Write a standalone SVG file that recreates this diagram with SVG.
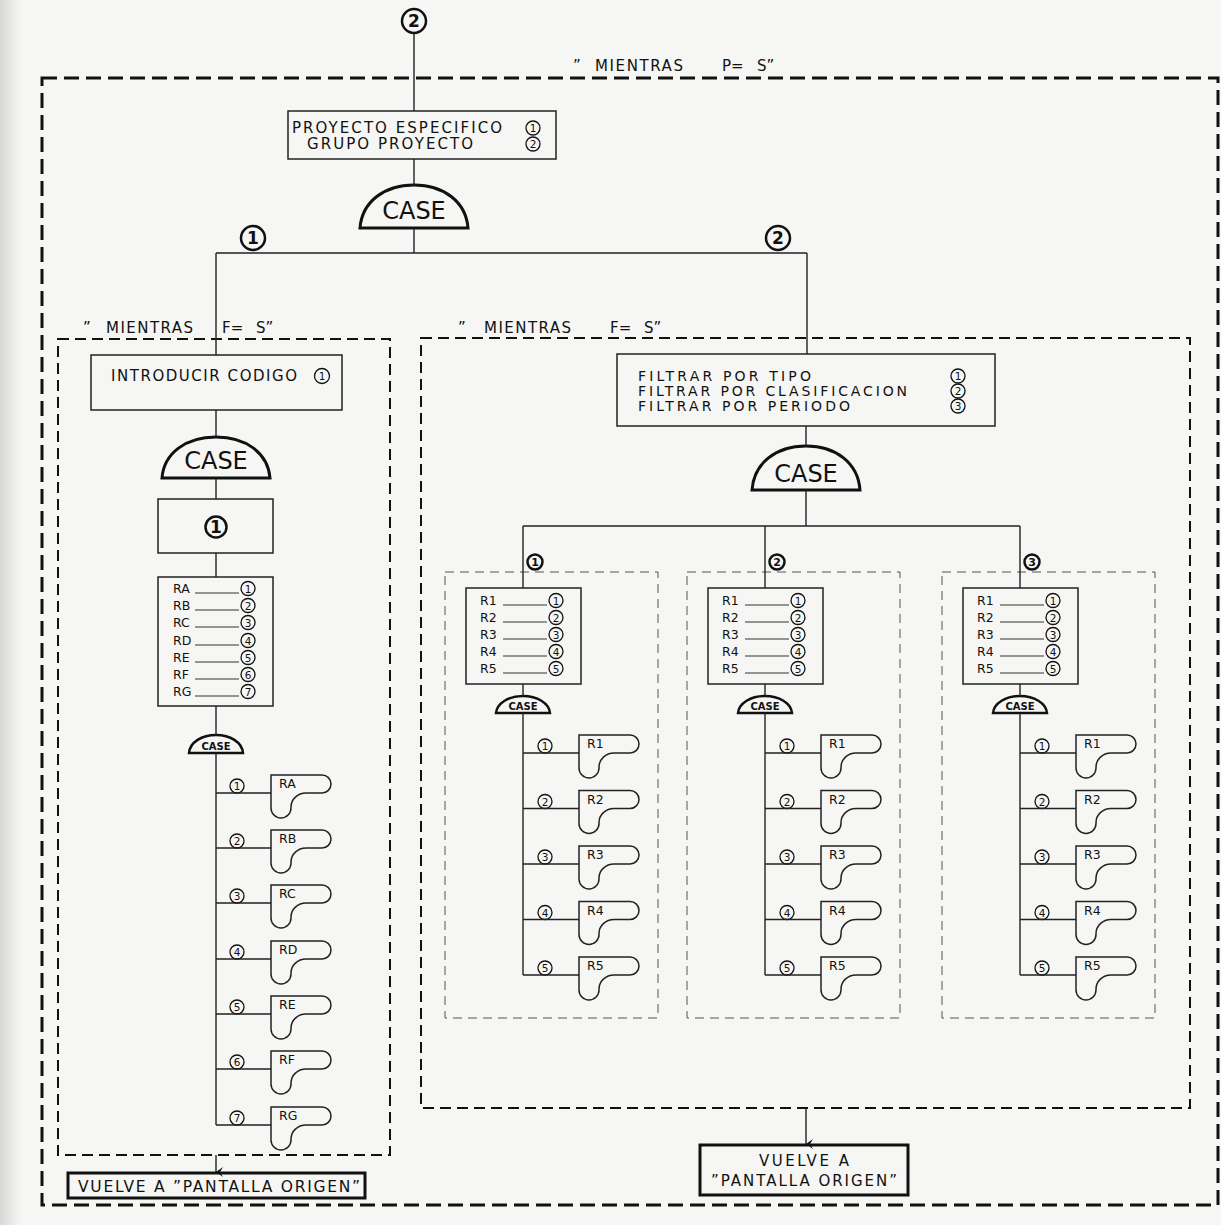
<svg xmlns="http://www.w3.org/2000/svg" xmlns:xlink="http://www.w3.org/1999/xlink" width="1221" height="1225" viewBox="0 0 1221 1225">
<defs>
<style>
text{font-family:"DejaVu Sans","Liberation Sans",sans-serif;fill:#111}
.ln{stroke:#222;stroke-width:1.4;fill:none}
.bx{fill:none;stroke:#222;stroke-width:1.5}
.tb{fill:none;stroke:#111;stroke-width:3}
.dome{fill:none;stroke:#111;stroke-width:3}
.dome2{fill:none;stroke:#111;stroke-width:2.5}
.outer{fill:none;stroke:#111;stroke-width:3;stroke-dasharray:15 7}
.inner{fill:none;stroke:#111;stroke-width:2;stroke-dasharray:11 6}
.sub{fill:none;stroke:#555;stroke-width:1;stroke-dasharray:9 6}
.card{fill:none;stroke:#222;stroke-width:1.5}
.ct{font-size:24px;text-anchor:middle}
.cs{font-size:10px;font-weight:bold;text-anchor:middle}
.lt{font-size:12.5px}
.c{fill:none;stroke:#111;stroke-width:1.3}
.cb{fill:none;stroke:#111;stroke-width:2.5}
.d{font-size:10.5px;text-anchor:middle}
.db{font-size:17px;font-weight:bold;text-anchor:middle}
.dm{font-size:11px;font-weight:bold;text-anchor:middle}
.ul{stroke:#333;stroke-width:1}
.m{font-size:15px}
.f{font-size:14px}
</style>
<linearGradient id="edge" x1="0" x2="1" y1="0" y2="0">
<stop offset="0" stop-color="#d8d8d6"/>
<stop offset="1" stop-color="#f6f6f4"/>
</linearGradient>
<path id="card" d="M0,0 H51 A9,9 0 0 1 51,18 H35 A15,14 0 0 0 20,32 V33 A10,10 0 0 1 0,33 Z"/>
<marker id="arr" markerWidth="10" markerHeight="10" refX="5" refY="8" orient="auto" markerUnits="userSpaceOnUse" viewBox="0 0 10 10">
<path d="M0,1 L5,8 L10,1 L5,4 Z" fill="#111"/>
</marker>
</defs>
<rect width="1221" height="1225" fill="#f6f6f4"/>
<rect width="22" height="1225" fill="url(#edge)"/>

<g id="loop-outer">
<rect class="outer" x="42" y="78" width="1176" height="1127"/>
<text class="m"><tspan x="573" y="71">”</tspan><tspan x="595" y="71" textLength="88" lengthAdjust="spacing">MIENTRAS</tspan><tspan x="722" y="71">P=</tspan><tspan x="757" y="71">S”</tspan></text>
</g>

<g id="start">
<circle class="cb" cx="414" cy="21" r="12"/><text class="db" x="414" y="27">2</text>
</g>

<g id="menu">
<rect class="bx" x="288" y="111" width="268" height="48"/>
<text class="m" x="292" y="133" textLength="210" lengthAdjust="spacing">PROYECTO ESPECIFICO</text>
<circle class="c" cx="533" cy="128" r="7"/><text class="d" x="533" y="132">1</text>
<text class="m" x="307" y="149" textLength="166" lengthAdjust="spacing">GRUPO PROYECTO</text>
<circle class="c" cx="533" cy="144" r="7"/><text class="d" x="533" y="148">2</text>
</g>

<g id="case-main">
<path class="dome" d="M360,228 C362,202 384,185 414,185 C444,185 466,202 468,228 Z"/>
<text class="ct" x="414" y="219">CASE</text>
</g>

<g id="label-1">
<circle class="cb" cx="253" cy="238" r="12"/><text class="db" x="253" y="244">1</text>
</g>
<g id="label-2">
<circle class="cb" cx="778" cy="238" r="12"/><text class="db" x="778" y="244">2</text>
</g>

<g id="loop-left">
<rect class="inner" x="58" y="339" width="332" height="816"/>
<text class="m"><tspan x="83" y="333">”</tspan><tspan x="106" y="333" textLength="87" lengthAdjust="spacing">MIENTRAS</tspan><tspan x="222" y="333">F=</tspan><tspan x="256" y="333">S”</tspan></text>
</g>

<g id="loop-right">
<rect class="inner" x="421" y="338" width="769" height="770"/>
<text class="m"><tspan x="458" y="333">”</tspan><tspan x="484" y="333" textLength="87" lengthAdjust="spacing">MIENTRAS</tspan><tspan x="610" y="333">F=</tspan><tspan x="644" y="333">S”</tspan></text>
</g>

<g id="introducir">
<rect class="bx" x="91" y="355" width="251" height="55"/>
<text class="m" x="111" y="381" textLength="186" lengthAdjust="spacing">INTRODUCIR CODIGO</text>
<circle class="c" cx="322" cy="376" r="7.5"/><text class="d" x="322" y="380">1</text>
</g>

<g id="case-left">
<path class="dome" d="M162,478 C164,453 186,437 216,437 C246,437 268,453 270,478 Z"/>
<text class="ct" x="216" y="469">CASE</text>
</g>

<g id="box-1">
<rect class="bx" x="158" y="499" width="115" height="54"/>
<circle class="cb" cx="216" cy="527" r="10.5"/><text class="db" x="216" y="533" font-size="16">1</text>
</g>

<g id="list-left">
<rect class="bx" x="158" y="577" width="115" height="129"/>
<text class="lt" x="173" y="593">RA</text><line class="ul" x1="195" y1="593" x2="239" y2="593"/><circle class="c" cx="248" cy="588.5" r="7"/><text class="d" x="248" y="592.5">1</text>
<text class="lt" x="173" y="610">RB</text><line class="ul" x1="195" y1="610" x2="239" y2="610"/><circle class="c" cx="248" cy="605.5" r="7"/><text class="d" x="248" y="609.5">2</text>
<text class="lt" x="173" y="627">RC</text><line class="ul" x1="195" y1="627" x2="239" y2="627"/><circle class="c" cx="248" cy="622.5" r="7"/><text class="d" x="248" y="626.5">3</text>
<text class="lt" x="173" y="645">RD</text><line class="ul" x1="195" y1="645" x2="239" y2="645"/><circle class="c" cx="248" cy="640.5" r="7"/><text class="d" x="248" y="644.5">4</text>
<text class="lt" x="173" y="662">RE</text><line class="ul" x1="195" y1="662" x2="239" y2="662"/><circle class="c" cx="248" cy="657.5" r="7"/><text class="d" x="248" y="661.5">5</text>
<text class="lt" x="173" y="679">RF</text><line class="ul" x1="195" y1="679" x2="239" y2="679"/><circle class="c" cx="248" cy="674.5" r="7"/><text class="d" x="248" y="678.5">6</text>
<text class="lt" x="173" y="696">RG</text><line class="ul" x1="195" y1="696" x2="239" y2="696"/><circle class="c" cx="248" cy="691.5" r="7"/><text class="d" x="248" y="695.5">7</text>
</g>

<g id="case-left-small">
<path class="dome2" d="M189,753 C190,742 202,735 216,735 C230,735 242,742 243,753 Z"/>
<text class="cs" x="216" y="750">CASE</text>
</g>

<g id="left-cards">
<g id="card-RA"><use xlink:href="#card" href="#card" class="card" x="271" y="775"/><text class="lt" x="279" y="788">RA</text><circle class="c" cx="237" cy="786" r="7"/><text class="d" x="237" y="790">1</text></g>
<g id="card-RB"><use xlink:href="#card" href="#card" class="card" x="271" y="830"/><text class="lt" x="279" y="843">RB</text><circle class="c" cx="237" cy="841" r="7"/><text class="d" x="237" y="845">2</text></g>
<g id="card-RC"><use xlink:href="#card" href="#card" class="card" x="271" y="885"/><text class="lt" x="279" y="898">RC</text><circle class="c" cx="237" cy="896" r="7"/><text class="d" x="237" y="900">3</text></g>
<g id="card-RD"><use xlink:href="#card" href="#card" class="card" x="271" y="941"/><text class="lt" x="279" y="954">RD</text><circle class="c" cx="237" cy="952" r="7"/><text class="d" x="237" y="956">4</text></g>
<g id="card-RE"><use xlink:href="#card" href="#card" class="card" x="271" y="996"/><text class="lt" x="279" y="1009">RE</text><circle class="c" cx="237" cy="1007" r="7"/><text class="d" x="237" y="1011">5</text></g>
<g id="card-RF"><use xlink:href="#card" href="#card" class="card" x="271" y="1051"/><text class="lt" x="279" y="1064">RF</text><circle class="c" cx="237" cy="1062" r="7"/><text class="d" x="237" y="1066">6</text></g>
<g id="card-RG"><use xlink:href="#card" href="#card" class="card" x="271" y="1107"/><text class="lt" x="279" y="1120">RG</text><circle class="c" cx="237" cy="1118" r="7"/><text class="d" x="237" y="1122">7</text></g>
</g>

<g id="filtrar">
<rect class="bx" x="617" y="354" width="378" height="72"/>
<text class="f" x="638" y="381" textLength="173" lengthAdjust="spacing">FILTRAR POR TIPO</text>
<text class="f" x="638" y="396" textLength="269" lengthAdjust="spacing">FILTRAR POR CLASIFICACION</text>
<text class="f" x="638" y="411" textLength="212" lengthAdjust="spacing">FILTRAR POR PERIODO</text>
<circle class="c" cx="958" cy="376" r="7"/><text class="d" x="958" y="380">1</text>
<circle class="c" cx="958" cy="391" r="7"/><text class="d" x="958" y="395">2</text>
<circle class="c" cx="958" cy="406" r="7"/><text class="d" x="958" y="410">3</text>
</g>

<g id="case-right">
<path class="dome" d="M752,490 C754,463 776,446 806,446 C836,446 858,463 860,490 Z"/>
<text class="ct" x="806" y="482">CASE</text>
</g>

<g id="sub1">
<rect class="sub" x="445" y="572" width="213" height="446"/>
<circle class="cb" cx="535" cy="562" r="7.5"/><text class="dm" x="535" y="566">1</text>
<rect class="bx" x="466" y="588" width="115" height="96"/>
<text class="lt" x="480" y="605">R1</text><line class="ul" x1="503" y1="605" x2="547" y2="605"/><circle class="c" cx="556" cy="600.5" r="7"/><text class="d" x="556" y="604.5">1</text>
<text class="lt" x="480" y="622">R2</text><line class="ul" x1="503" y1="622" x2="547" y2="622"/><circle class="c" cx="556" cy="617.5" r="7"/><text class="d" x="556" y="621.5">2</text>
<text class="lt" x="480" y="639">R3</text><line class="ul" x1="503" y1="639" x2="547" y2="639"/><circle class="c" cx="556" cy="634.5" r="7"/><text class="d" x="556" y="638.5">3</text>
<text class="lt" x="480" y="656">R4</text><line class="ul" x1="503" y1="656" x2="547" y2="656"/><circle class="c" cx="556" cy="651.5" r="7"/><text class="d" x="556" y="655.5">4</text>
<text class="lt" x="480" y="673">R5</text><line class="ul" x1="503" y1="673" x2="547" y2="673"/><circle class="c" cx="556" cy="668.5" r="7"/><text class="d" x="556" y="672.5">5</text>
<path class="dome2" d="M496,713 C497,703 509,696 523,696 C537,696 549,703 550,713 Z"/>
<text class="cs" x="523" y="710">CASE</text>
<use xlink:href="#card" href="#card" class="card" x="579" y="735"/><text class="lt" x="587" y="748">R1</text><circle class="c" cx="545" cy="746" r="7"/><text class="d" x="545" y="750">1</text>
<use xlink:href="#card" href="#card" class="card" x="579" y="790.5"/><text class="lt" x="587" y="803.5">R2</text><circle class="c" cx="545" cy="801.5" r="7"/><text class="d" x="545" y="805.5">2</text>
<use xlink:href="#card" href="#card" class="card" x="579" y="846"/><text class="lt" x="587" y="859">R3</text><circle class="c" cx="545" cy="857" r="7"/><text class="d" x="545" y="861">3</text>
<use xlink:href="#card" href="#card" class="card" x="579" y="901.5"/><text class="lt" x="587" y="914.5">R4</text><circle class="c" cx="545" cy="912.5" r="7"/><text class="d" x="545" y="916.5">4</text>
<use xlink:href="#card" href="#card" class="card" x="579" y="957"/><text class="lt" x="587" y="970">R5</text><circle class="c" cx="545" cy="968" r="7"/><text class="d" x="545" y="972">5</text>
</g>

<g id="sub2" transform="translate(242,0)">
<rect class="sub" x="445" y="572" width="213" height="446"/>
<circle class="cb" cx="535" cy="562" r="7.5"/><text class="dm" x="535" y="566">2</text>
<rect class="bx" x="466" y="588" width="115" height="96"/>
<text class="lt" x="480" y="605">R1</text><line class="ul" x1="503" y1="605" x2="547" y2="605"/><circle class="c" cx="556" cy="600.5" r="7"/><text class="d" x="556" y="604.5">1</text>
<text class="lt" x="480" y="622">R2</text><line class="ul" x1="503" y1="622" x2="547" y2="622"/><circle class="c" cx="556" cy="617.5" r="7"/><text class="d" x="556" y="621.5">2</text>
<text class="lt" x="480" y="639">R3</text><line class="ul" x1="503" y1="639" x2="547" y2="639"/><circle class="c" cx="556" cy="634.5" r="7"/><text class="d" x="556" y="638.5">3</text>
<text class="lt" x="480" y="656">R4</text><line class="ul" x1="503" y1="656" x2="547" y2="656"/><circle class="c" cx="556" cy="651.5" r="7"/><text class="d" x="556" y="655.5">4</text>
<text class="lt" x="480" y="673">R5</text><line class="ul" x1="503" y1="673" x2="547" y2="673"/><circle class="c" cx="556" cy="668.5" r="7"/><text class="d" x="556" y="672.5">5</text>
<path class="dome2" d="M496,713 C497,703 509,696 523,696 C537,696 549,703 550,713 Z"/>
<text class="cs" x="523" y="710">CASE</text>
<use xlink:href="#card" href="#card" class="card" x="579" y="735"/><text class="lt" x="587" y="748">R1</text><circle class="c" cx="545" cy="746" r="7"/><text class="d" x="545" y="750">1</text>
<use xlink:href="#card" href="#card" class="card" x="579" y="790.5"/><text class="lt" x="587" y="803.5">R2</text><circle class="c" cx="545" cy="801.5" r="7"/><text class="d" x="545" y="805.5">2</text>
<use xlink:href="#card" href="#card" class="card" x="579" y="846"/><text class="lt" x="587" y="859">R3</text><circle class="c" cx="545" cy="857" r="7"/><text class="d" x="545" y="861">3</text>
<use xlink:href="#card" href="#card" class="card" x="579" y="901.5"/><text class="lt" x="587" y="914.5">R4</text><circle class="c" cx="545" cy="912.5" r="7"/><text class="d" x="545" y="916.5">4</text>
<use xlink:href="#card" href="#card" class="card" x="579" y="957"/><text class="lt" x="587" y="970">R5</text><circle class="c" cx="545" cy="968" r="7"/><text class="d" x="545" y="972">5</text>
</g>

<g id="sub3" transform="translate(497,0)">
<rect class="sub" x="445" y="572" width="213" height="446"/>
<circle class="cb" cx="535" cy="562" r="7.5"/><text class="dm" x="535" y="566">3</text>
<rect class="bx" x="466" y="588" width="115" height="96"/>
<text class="lt" x="480" y="605">R1</text><line class="ul" x1="503" y1="605" x2="547" y2="605"/><circle class="c" cx="556" cy="600.5" r="7"/><text class="d" x="556" y="604.5">1</text>
<text class="lt" x="480" y="622">R2</text><line class="ul" x1="503" y1="622" x2="547" y2="622"/><circle class="c" cx="556" cy="617.5" r="7"/><text class="d" x="556" y="621.5">2</text>
<text class="lt" x="480" y="639">R3</text><line class="ul" x1="503" y1="639" x2="547" y2="639"/><circle class="c" cx="556" cy="634.5" r="7"/><text class="d" x="556" y="638.5">3</text>
<text class="lt" x="480" y="656">R4</text><line class="ul" x1="503" y1="656" x2="547" y2="656"/><circle class="c" cx="556" cy="651.5" r="7"/><text class="d" x="556" y="655.5">4</text>
<text class="lt" x="480" y="673">R5</text><line class="ul" x1="503" y1="673" x2="547" y2="673"/><circle class="c" cx="556" cy="668.5" r="7"/><text class="d" x="556" y="672.5">5</text>
<path class="dome2" d="M496,713 C497,703 509,696 523,696 C537,696 549,703 550,713 Z"/>
<text class="cs" x="523" y="710">CASE</text>
<use xlink:href="#card" href="#card" class="card" x="579" y="735"/><text class="lt" x="587" y="748">R1</text><circle class="c" cx="545" cy="746" r="7"/><text class="d" x="545" y="750">1</text>
<use xlink:href="#card" href="#card" class="card" x="579" y="790.5"/><text class="lt" x="587" y="803.5">R2</text><circle class="c" cx="545" cy="801.5" r="7"/><text class="d" x="545" y="805.5">2</text>
<use xlink:href="#card" href="#card" class="card" x="579" y="846"/><text class="lt" x="587" y="859">R3</text><circle class="c" cx="545" cy="857" r="7"/><text class="d" x="545" y="861">3</text>
<use xlink:href="#card" href="#card" class="card" x="579" y="901.5"/><text class="lt" x="587" y="914.5">R4</text><circle class="c" cx="545" cy="912.5" r="7"/><text class="d" x="545" y="916.5">4</text>
<use xlink:href="#card" href="#card" class="card" x="579" y="957"/><text class="lt" x="587" y="970">R5</text><circle class="c" cx="545" cy="968" r="7"/><text class="d" x="545" y="972">5</text>
</g>

<g id="vuelve-left">
<rect class="tb" x="68" y="1173" width="297" height="25"/>
<text x="78" y="1192" font-size="15.5" textLength="282" lengthAdjust="spacing">VUELVE A ”PANTALLA ORIGEN”</text>
</g>

<g id="vuelve-right">
<rect class="tb" x="700" y="1145" width="208" height="50"/>
<text class="m" x="804" y="1166" text-anchor="middle" textLength="90" lengthAdjust="spacing">VUELVE A</text>
<text class="m" x="804" y="1186" text-anchor="middle" textLength="186" lengthAdjust="spacing">”PANTALLA ORIGEN”</text>
</g>

<g id="connectors" class="ln">
<path d="M414,33 V111 M414,159 V185 M414,228 V253 M216,253 H807 M216,253 V355 M807,253 V354"/>
<path d="M216,410 V437 M216,478 V499 M216,553 V577 M216,706 V735 M216,753 V1125"/>
<path d="M216,793 H271 M216,848 H271 M216,903 H271 M216,959 H271 M216,1014 H271 M216,1069 H271 M216,1125 H271"/>
<path d="M806,426 V446 M806,490 V526 M523,526 H1020 M523,526 V588 M765,526 V588 M1020,526 V588"/>
<path d="M523,684 V696 M523,713 V975 M523,753 H579 M523,808.5 H579 M523,864 H579 M523,919.5 H579 M523,975 H579"/>
<path d="M765,684 V696 M765,713 V975 M765,753 H821 M765,808.5 H821 M765,864 H821 M765,919.5 H821 M765,975 H821"/>
<path d="M1020,684 V696 M1020,713 V975 M1020,753 H1076 M1020,808.5 H1076 M1020,864 H1076 M1020,919.5 H1076 M1020,975 H1076"/>
<path d="M216,1155 V1172" marker-end="url(#arr)"/>
<path d="M806,1108 V1144" marker-end="url(#arr)"/>
</g>
</svg>
